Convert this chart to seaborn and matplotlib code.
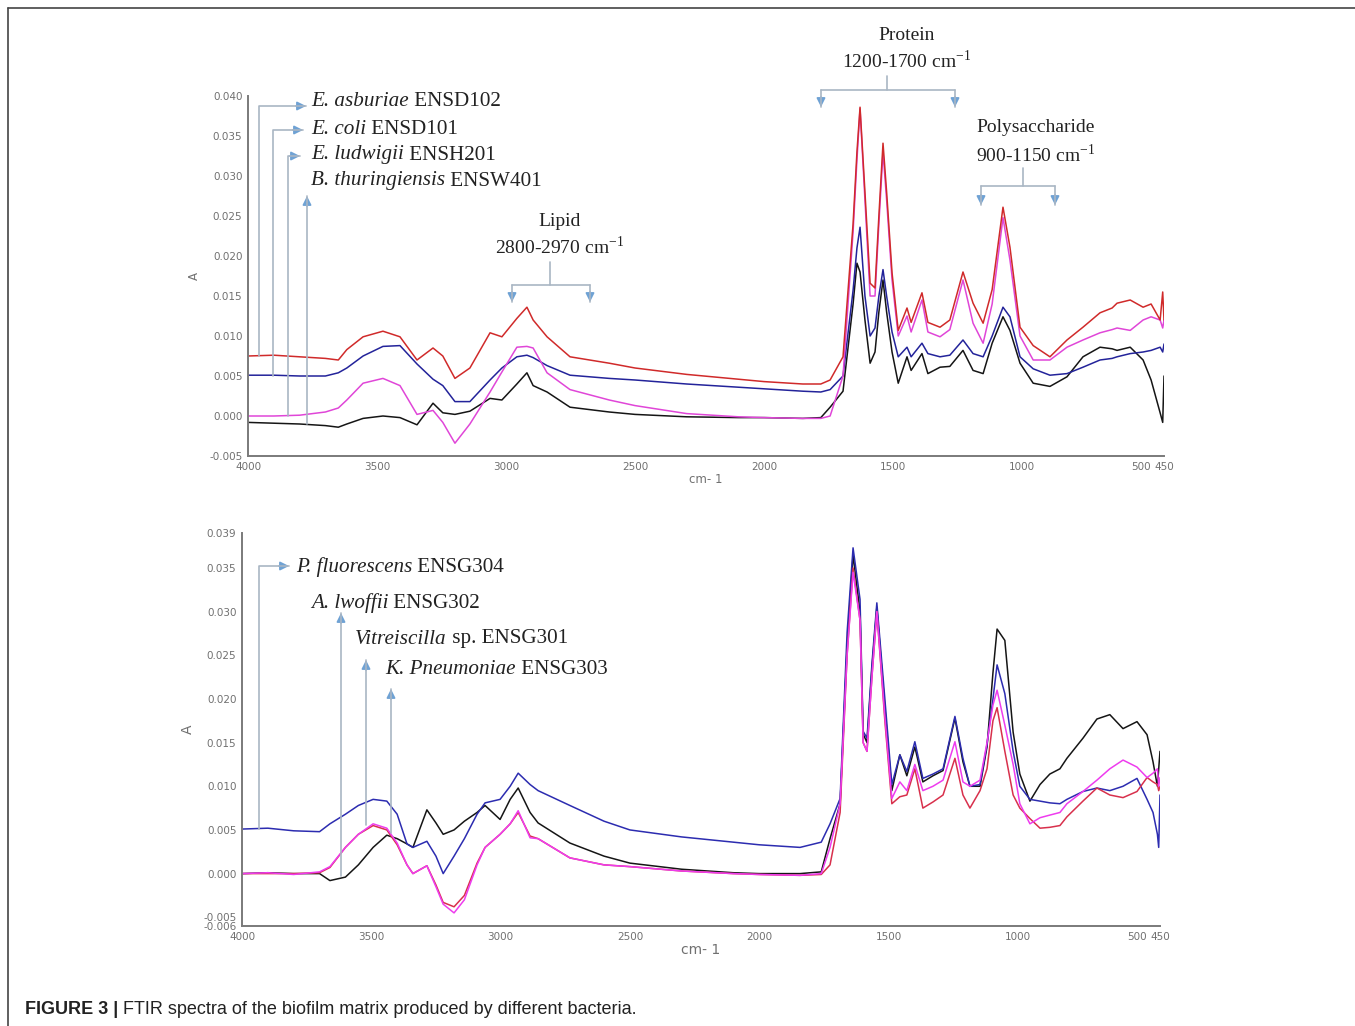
import pandas as pd
import matplotlib.pyplot as plt
import seaborn as sns
from matplotlib.lines import Line2D
from matplotlib.patches import FancyArrowPatch
from matplotlib.text import Annotation

# ---- data (wavenumber in cm-1, absorbance A) ----
wn_top = [4000, 3900, 3800, 3700, 3650, 3617, 3554, 3477, 3411, 3345, 3283, 3245, 3198, 3140,
          3062, 3016, 2958, 2919, 2895, 2841, 2752, 2600, 2500, 2300, 2100, 2000, 1850, 1780,
          1744, 1694, 1655, 1640, 1628, 1609, 1589, 1570, 1555, 1539, 1525, 1504, 1480, 1446,
          1430, 1388, 1365, 1318, 1280, 1229, 1190, 1151, 1116, 1074, 1047, 1008, 957, 892,
          826, 764, 698, 651, 632, 581, 531, 500, 465, 455, 450]

asburiae = [.0075, .0076, .0074, .0072, .0070, .0083, .0099, .0106, .0099, .0070, .0085, .0075, .0047, .0060,
            .0104, .0099, .0122, .0136, .0120, .0099, .0074, .0066, .0060, .0052, .0046, .0043, .0040, .0040,
            .0045, .0074, .0240, .0330, .0386, .0280, .0166, .0160, .0250, .0341, .0280, .0179, .0107, .0135,
            .0117, .0154, .0117, .0111, .0120, .0180, .0141, .0116, .0158, .0261, .0211, .0111, .0088, .0074,
            .0095, .0111, .0129, .0135, .0141, .0145, .0136, .0140, .0120, .0155, .0120]
coli = [.0051, .0051, .0050, .0050, .0054, .0060, .0075, .0087, .0088, .0065, .0046, .0038, .0018, .0018,
        .0045, .0060, .0074, .0076, .0073, .0063, .0051, .0047, .0045, .0040, .0036, .0034, .0031, .0030,
        .0033, .0050, .0157, .0210, .0236, .0150, .0100, .0110, .0150, .0183, .0150, .0105, .0074, .0086,
        .0074, .0091, .0078, .0074, .0076, .0095, .0078, .0074, .0100, .0136, .0124, .0074, .0059, .0051,
        .0053, .0061, .0070, .0072, .0074, .0078, .0080, .0082, .0086, .0080, .0090]
ludwigii = [.0000, .0000, .0001, .0005, .0010, .0020, .0041, .0047, .0038, .0002, .0007, -.0008, -.0034, -.0010,
            .0030, .0055, .0086, .0087, .0085, .0054, .0033, .0020, .0013, .0003, -.0001, -.0002, -.0003, -.0003,
            .0000, .0050, .0230, .0320, .0384, .0270, .0150, .0150, .0240, .0330, .0270, .0170, .0100, .0125,
            .0105, .0145, .0105, .0099, .0108, .0170, .0116, .0091, .0140, .0248, .0195, .0100, .0070, .0070,
            .0086, .0095, .0104, .0108, .0110, .0107, .0120, .0124, .0120, .0110, .0120]
thuringiensis = [-.0008, -.0009, -.0010, -.0012, -.0014, -.0010, -.0003, .0000, -.0002, -.0011, .0016, .0004, .0002, .0006,
                 .0022, .0020, .0040, .0054, .0038, .0030, .0011, .0005, .0002, -.0001, -.0002, -.0002, -.0003, -.0002,
                 .0011, .0031, .0140, .0191, .0180, .0120, .0066, .0080, .0130, .0170, .0130, .0080, .0041, .0074,
                 .0057, .0078, .0053, .0061, .0062, .0082, .0057, .0053, .0091, .0124, .0107, .0066, .0041, .0037,
                 .0049, .0074, .0086, .0084, .0082, .0086, .0070, .0045, .0004, -.0008, .0050]

wn_bot = [4000, 3900, 3800, 3700, 3660, 3600, 3550, 3493, 3440, 3400, 3362, 3339, 3285, 3250, 3222,
          3180, 3140, 3091, 3060, 3002, 2963, 2932, 2886, 2855, 2732, 2600, 2500, 2300, 2100, 2000,
          1842, 1760, 1726, 1687, 1660, 1637, 1610, 1598, 1583, 1564, 1545, 1514, 1487, 1456, 1429,
          1398, 1367, 1328, 1289, 1243, 1212, 1185, 1146, 1119, 1096, 1080, 1050, 1018, 992, 953,
          914, 876, 837, 810, 748, 694, 644, 593, 539, 500, 477, 460, 455, 450]

fluorescens = [.0051, .0052, .0049, .0048, .0057, .0068, .0078, .0085, .0083, .0068, .0034, .0030, .0037, .0020, .0000,
               .0020, .0040, .0068, .0081, .0085, .0100, .0115, .0102, .0095, .0078, .0060, .0050, .0042, .0036, .0033,
               .0030, .0036, .0057, .0086, .0276, .0373, .0314, .0163, .0155, .0240, .0310, .0200, .0102, .0136, .0117,
               .0151, .0109, .0114, .0120, .0180, .0132, .0100, .0102, .0148, .0200, .0239, .0206, .0140, .0100, .0085,
               .0083, .0081, .0080, .0085, .0094, .0098, .0095, .0100, .0109, .0085, .0070, .0045, .0030, .0090]
lwoffii = [.0000, .0001, .0000, .0000, -.0008, -.0004, .0010, .0030, .0044, .0040, .0034, .0030, .0073, .0058, .0045,
           .0050, .0060, .0070, .0078, .0062, .0085, .0098, .0070, .0058, .0035, .0020, .0012, .0005, .0001, .0000,
           .0000, .0002, .0040, .0080, .0260, .0365, .0300, .0160, .0150, .0235, .0305, .0190, .0095, .0136, .0112,
           .0145, .0105, .0112, .0118, .0178, .0128, .0100, .0100, .0145, .0230, .0280, .0267, .0162, .0114, .0083,
           .0102, .0114, .0120, .0132, .0155, .0177, .0182, .0166, .0174, .0159, .0128, .0100, .0120, .0140]
vitreiscilla = [.0000, .0001, -.0001, .0002, .0008, .0030, .0045, .0057, .0052, .0035, .0010, .0000, .0009, -.0015, -.0035,
                -.0045, -.0030, .0010, .0030, .0045, .0057, .0072, .0041, .0040, .0018, .0010, .0008, .0003, .0000, -.0001,
                -.0002, .0000, .0030, .0080, .0250, .0345, .0290, .0150, .0140, .0225, .0300, .0180, .0086, .0105, .0095,
                .0125, .0095, .0100, .0107, .0151, .0105, .0100, .0107, .0150, .0193, .0210, .0170, .0125, .0080, .0057,
                .0064, .0067, .0070, .0080, .0094, .0107, .0120, .0130, .0122, .0110, .0115, .0120, .0100, .0110]
pneumoniae = [.0000, .0000, .0000, .0001, .0007, .0030, .0045, .0055, .0050, .0033, .0010, .0000, .0009, -.0013, -.0033,
              -.0038, -.0025, .0012, .0030, .0045, .0057, .0070, .0043, .0040, .0018, .0010, .0008, .0003, .0000, -.0001,
              -.0002, -.0001, .0010, .0070, .0250, .0350, .0290, .0150, .0140, .0225, .0300, .0175, .0080, .0088, .0090,
              .0120, .0075, .0082, .0090, .0132, .0090, .0075, .0095, .0120, .0175, .0190, .0140, .0090, .0075, .0063,
              .0052, .0053, .0055, .0065, .0083, .0098, .0090, .0087, .0094, .0110, .0105, .0102, .0095, .0100]

x_ticks = [4000, 3500, 3000, 2500, 2000, 1500, 1000, 500, 450]
top_yticks = [-0.005, 0.000, 0.005, 0.010, 0.015, 0.020, 0.025, 0.030, 0.035, 0.040]
bot_yticks = [-0.006, -0.005, 0.000, 0.005, 0.010, 0.015, 0.020, 0.025, 0.030, 0.035, 0.039]

top_series = {'E. asburiae': asburiae, 'E. coli': coli, 'E. ludwigii': ludwigii, 'B. thuringiensis': thuringiensis}
bot_series = {'P. fluorescens': fluorescens, 'A. lwoffii': lwoffii, 'Vitreiscilla': vitreiscilla, 'K. pneumoniae': pneumoniae}
top_colors = {'B. thuringiensis': '#151515', 'E. coli': '#23239a', 'E. ludwigii': '#e046d8', 'E. asburiae': '#d02a2a'}
bot_colors = {'A. lwoffii': '#151515', 'P. fluorescens': '#2c2cb0', 'K. pneumoniae': '#d8304c', 'Vitreiscilla': '#ee3cee'}
top_order = ['B. thuringiensis', 'E. coli', 'E. ludwigii', 'E. asburiae']
bot_order = ['A. lwoffii', 'P. fluorescens', 'K. pneumoniae', 'Vitreiscilla']

W, H = 1355, 1026
sns.set_style('white')
plt.rcParams['font.family'] = ['Liberation Serif', 'DejaVu Serif']

fig = plt.figure(figsize=(W / 100, H / 100), dpi=100)


def px(x, y):
    # pixel position (from top-left) -> figure fraction
    return (x / W, 1 - y / H)


def make_df(wn, series, order):
    parts = []
    for name in order:
        parts.append(pd.DataFrame({'wn': wn, 'A': series[name], 'strain': name}))
    return pd.concat(parts, ignore_index=True)


def style_axes(ax, ylim, yticks, label_size):
    ax.patch.set_visible(False)
    ax.set_xlim(4000, 450)
    ax.set_ylim(*ylim)
    ax.set_xticks(x_ticks)
    ax.set_xticklabels([str(t) for t in x_ticks])
    ax.set_yticks(yticks)
    ax.set_yticklabels(['%.3f' % t for t in yticks])
    for s in ['top', 'right']:
        ax.spines[s].set_visible(False)
    for s in ['left', 'bottom']:
        ax.spines[s].set_color('#7a7a7a')
        ax.spines[s].set_linewidth(1.4)
    ax.tick_params(axis='both', direction='out', length=3, width=1, color='#7a7a7a',
                   labelsize=7.5, labelcolor='#707070', pad=1)
    for lab in ax.get_xticklabels() + ax.get_yticklabels():
        lab.set_family('DejaVu Sans')
    # 500 and 450 sit almost on top of each other
    xl = ax.get_xticklabels()
    xl[-2].set_ha('right')
    xl[-1].set_ha('center')
    ax.set_xlabel('cm- 1', family='DejaVu Sans', fontsize=label_size, color='#707070', labelpad=1)
    ax.set_ylabel('A', family='DejaVu Sans', fontsize=label_size, color='#707070', labelpad=6)


ax1 = fig.add_axes([248 / W, 1 - 456 / H, 916 / W, 360 / H])
sns.lineplot(data=make_df(wn_top, top_series, top_order), x='wn', y='A', hue='strain',
             palette=top_colors, hue_order=top_order, estimator=None, lw=1.1, legend=False, ax=ax1)
style_axes(ax1, (-0.005, 0.040), top_yticks, 8.5)

ax2 = fig.add_axes([242 / W, 1 - 926 / H, 918 / W, 393 / H])
sns.lineplot(data=make_df(wn_bot, bot_series, bot_order), x='wn', y='A', hue='strain',
             palette=bot_colors, hue_order=bot_order, estimator=None, lw=1.1, legend=False, ax=ax2)
style_axes(ax2, (-0.006, 0.039), bot_yticks, 10)

LINE = '#a9b6c4'
HEAD = '#6fa2d4'


def path(points, head=True):
    xs = [px(*p)[0] for p in points]
    ys = [px(*p)[1] for p in points]
    fig.add_artist(Line2D(xs, ys, color=LINE, lw=1.2, transform=fig.transFigure))
    if head:
        (x0, y0), (x1, y1) = points[-2], points[-1]
        n = max(abs(x1 - x0), abs(y1 - y0))
        start = (x1 - (x1 - x0) / n * 10, y1 - (y1 - y0) / n * 10)
        fig.add_artist(FancyArrowPatch(px(*start), px(x1, y1), transform=fig.transFigure,
                                       arrowstyle='-|>', mutation_scale=13, color=HEAD, lw=1.2,
                                       shrinkA=0, shrinkB=0))


def label(x, y, ital, rest, size=15.2):
    t = fig.text(*px(x, y), ital, style='italic', fontsize=size, va='center', ha='left', color='#222222')
    fig.add_artist(Annotation(rest, xy=(1, 0), xycoords=t, va='bottom', ha='left', fontsize=size,
                              color='#222222', annotation_clip=False))


# species pointers, top panel
path([(259, 356), (259, 106), (306, 106)])
path([(273, 376), (273, 130), (303, 130)])
path([(288, 416), (288, 156), (300, 156)])
path([(307, 424), (307, 196)])
label(311, 102, 'E. asburiae', ' ENSD102')
label(311, 129, 'E. coli', ' ENSD101')
label(311, 155, 'E. ludwigii', ' ENSH201')
label(311, 181, 'B. thuringiensis', ' ENSW401')

# species pointers, bottom panel
path([(259, 829), (259, 566), (289, 566)])
path([(341, 876), (341, 613)])
path([(366, 825), (366, 660)])
path([(391, 833), (391, 689)])
label(296, 567, 'P. fluorescens', ' ENSG304')
label(311, 603, 'A. lwoffii', ' ENSG302')
label(355, 639, 'Vitreiscilla', ' sp. ENSG301')
label(385, 670, 'K. Pneumoniae', ' ENSG303')


def bracket(xc, ys, y_bar, x_left, x_right, y_tip, title, rng, ty1, ty2, tx):
    path([(xc, ys), (xc, y_bar)], head=False)
    path([(x_left, y_bar), (x_right, y_bar)], head=False)
    path([(x_left, y_bar), (x_left, y_tip)])
    path([(x_right, y_bar), (x_right, y_tip)])
    fig.text(*px(tx, ty1), title, fontsize=14, ha='center', va='center', color='#222222')
    fig.text(*px(tx, ty2), rng + r' cm$^{\mathregular{-1}}$', fontsize=14, ha='center', va='center',
             color='#222222')


bracket(550, 262, 285, 512, 590, 302, 'Lipid', '2800-2970', 221, 247, 560)
bracket(887, 76, 90, 821, 955, 107, 'Protein', '1200-1700', 35, 61, 907)
bracket(1023, 168, 186, 981, 1055, 205, 'Polysaccharide', '900-1150', 128, 155, 1036)

# figure frame and caption
fig.add_artist(Line2D([8 / W, 8 / W], [1 - 8 / H, 0], color='#444444', lw=1.2, transform=fig.transFigure))
fig.add_artist(Line2D([8 / W, 1], [1 - 8 / H, 1 - 8 / H], color='#444444', lw=1.2, transform=fig.transFigure))
cap = fig.text(*px(25, 1009), 'FIGURE 3 |', family='Liberation Sans', weight='bold', fontsize=13,
               va='center', ha='left', color='#222222')
fig.add_artist(Annotation(' FTIR spectra of the biofilm matrix produced by different bacteria.', xy=(1, 0),
                          xycoords=cap, va='bottom', ha='left', family='Liberation Sans', fontsize=13,
                          color='#222222', annotation_clip=False))

fig.savefig('out.png', dpi=100)
